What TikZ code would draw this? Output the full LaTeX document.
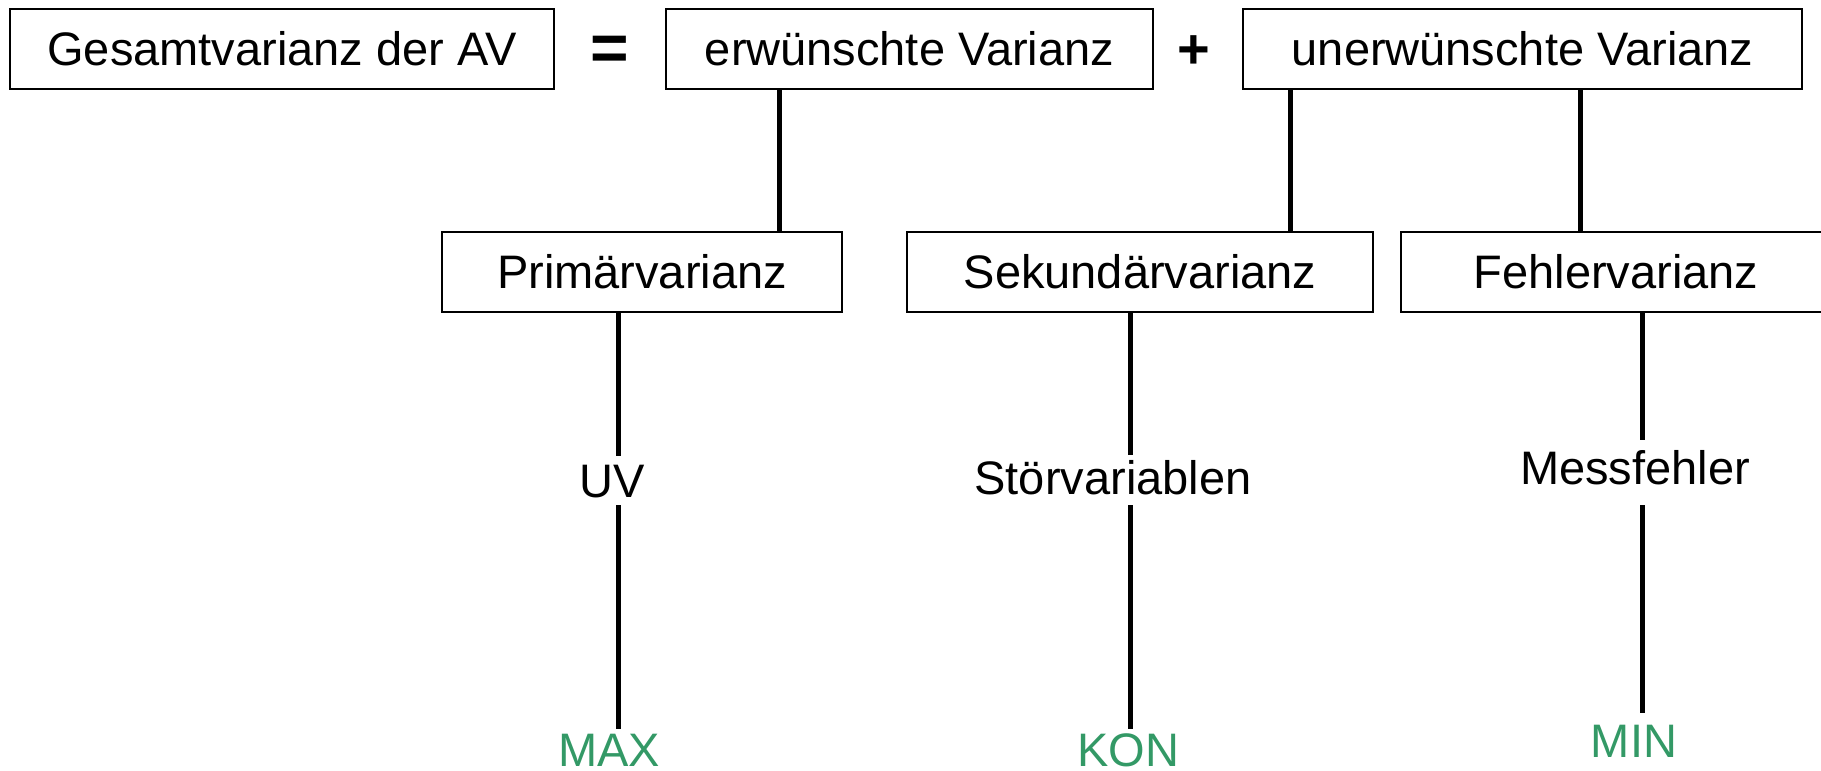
\documentclass[tikz,border=0pt]{standalone}
\usepackage{fontspec}
\setmainfont{Liberation Sans}
\definecolor{goalgreen}{RGB}{51,153,102}
\newcommand{\bigtext}{\fontsize{47}{56}\selectfont}
\begin{document}
\begin{tikzpicture}[x=1pt,y=-1pt,
  varbox/.style={draw=black,line width=2pt,rectangle,inner sep=0pt,
    minimum height=80pt,font=\bigtext,text height=33.6pt,text depth=0pt},
  sign/.style={inner sep=0pt,font=\fontsize{#1}{#1}\selectfont\bfseries},
  label/.style={inner sep=0pt,anchor=base,font=\bigtext},
  goal/.style={inner sep=0pt,anchor=base,font=\bigtext,text=goalgreen},
  link/.style={line width=5pt,draw=black}]
\useasboundingbox (0,0) rectangle (1821,771);
\begin{scope}
\clip (0,0) rectangle (1821,771);
% top row: the equation
\node[varbox,minimum width=544pt] (ges) at (282,49) {Gesamtvarianz der AV};
\node[sign=66] (eq) at (610,53) {=};
\node[varbox,minimum width=487pt] (erw) at (909.5,49) {erwünschte Varianz};
\node[sign=56] (plus) at (1194,52) {+};
\node[varbox,minimum width=559pt] (unerw) at (1522.5,49) {unerwünschte Varianz};
% second row: the three kinds of variance
\node[varbox,minimum width=400pt] (prim) at (642,272) {Primärvarianz};
\node[varbox,minimum width=466pt] (sek) at (1140,272) {Sekundärvarianz};
\node[varbox,minimum width=430pt] (fehl) at (1616,272) {Fehlervarianz};
% sources
\node[label] (uv) at (612,497) {UV};
\node[label] (stoer) at (1113,494) {Störvariablen};
\node[label] (mess) at (1635,484) {Messfehler};
% goals
\node[goal] (max) at (609,766) {MAX};
\node[goal] (kon) at (1128,766) {KON};
\node[goal] (min) at (1634,757) {MIN};
% column positions of the connectors
\coordinate (cA) at (779,0);
\coordinate (cB) at (1290,0);
\coordinate (cC) at (1580,0);
\coordinate (cP) at (618,0);
\coordinate (cS) at (1130,0);
\coordinate (cF) at (1642,0);
% ends of the connectors beside the labels
\coordinate (uvTop) at (618,456);
\coordinate (uvBot) at (618,505);
\coordinate (maxTop) at (618,729);
\coordinate (stTop) at (1130,455);
\coordinate (stBot) at (1130,505);
\coordinate (konTop) at (1130,729);
\coordinate (msTop) at (1642,440);
\coordinate (msBot) at (1642,505);
\coordinate (minTop) at (1642,713);
% connectors between the rows
\draw[link] (erw.south -| cA) -- (prim.north -| cA);
\draw[link] (unerw.south -| cB) -- (sek.north -| cB);
\draw[link] (unerw.south -| cC) -- (fehl.north -| cC);
% connectors down to sources and goals
\draw[link] (prim.south -| cP) -- (uvTop);
\draw[link] (uvBot) -- (maxTop);
\draw[link] (sek.south -| cS) -- (stTop);
\draw[link] (stBot) -- (konTop);
\draw[link] (fehl.south -| cF) -- (msTop);
\draw[link] (msBot) -- (minTop);
\end{scope}
\end{tikzpicture}
\end{document}
